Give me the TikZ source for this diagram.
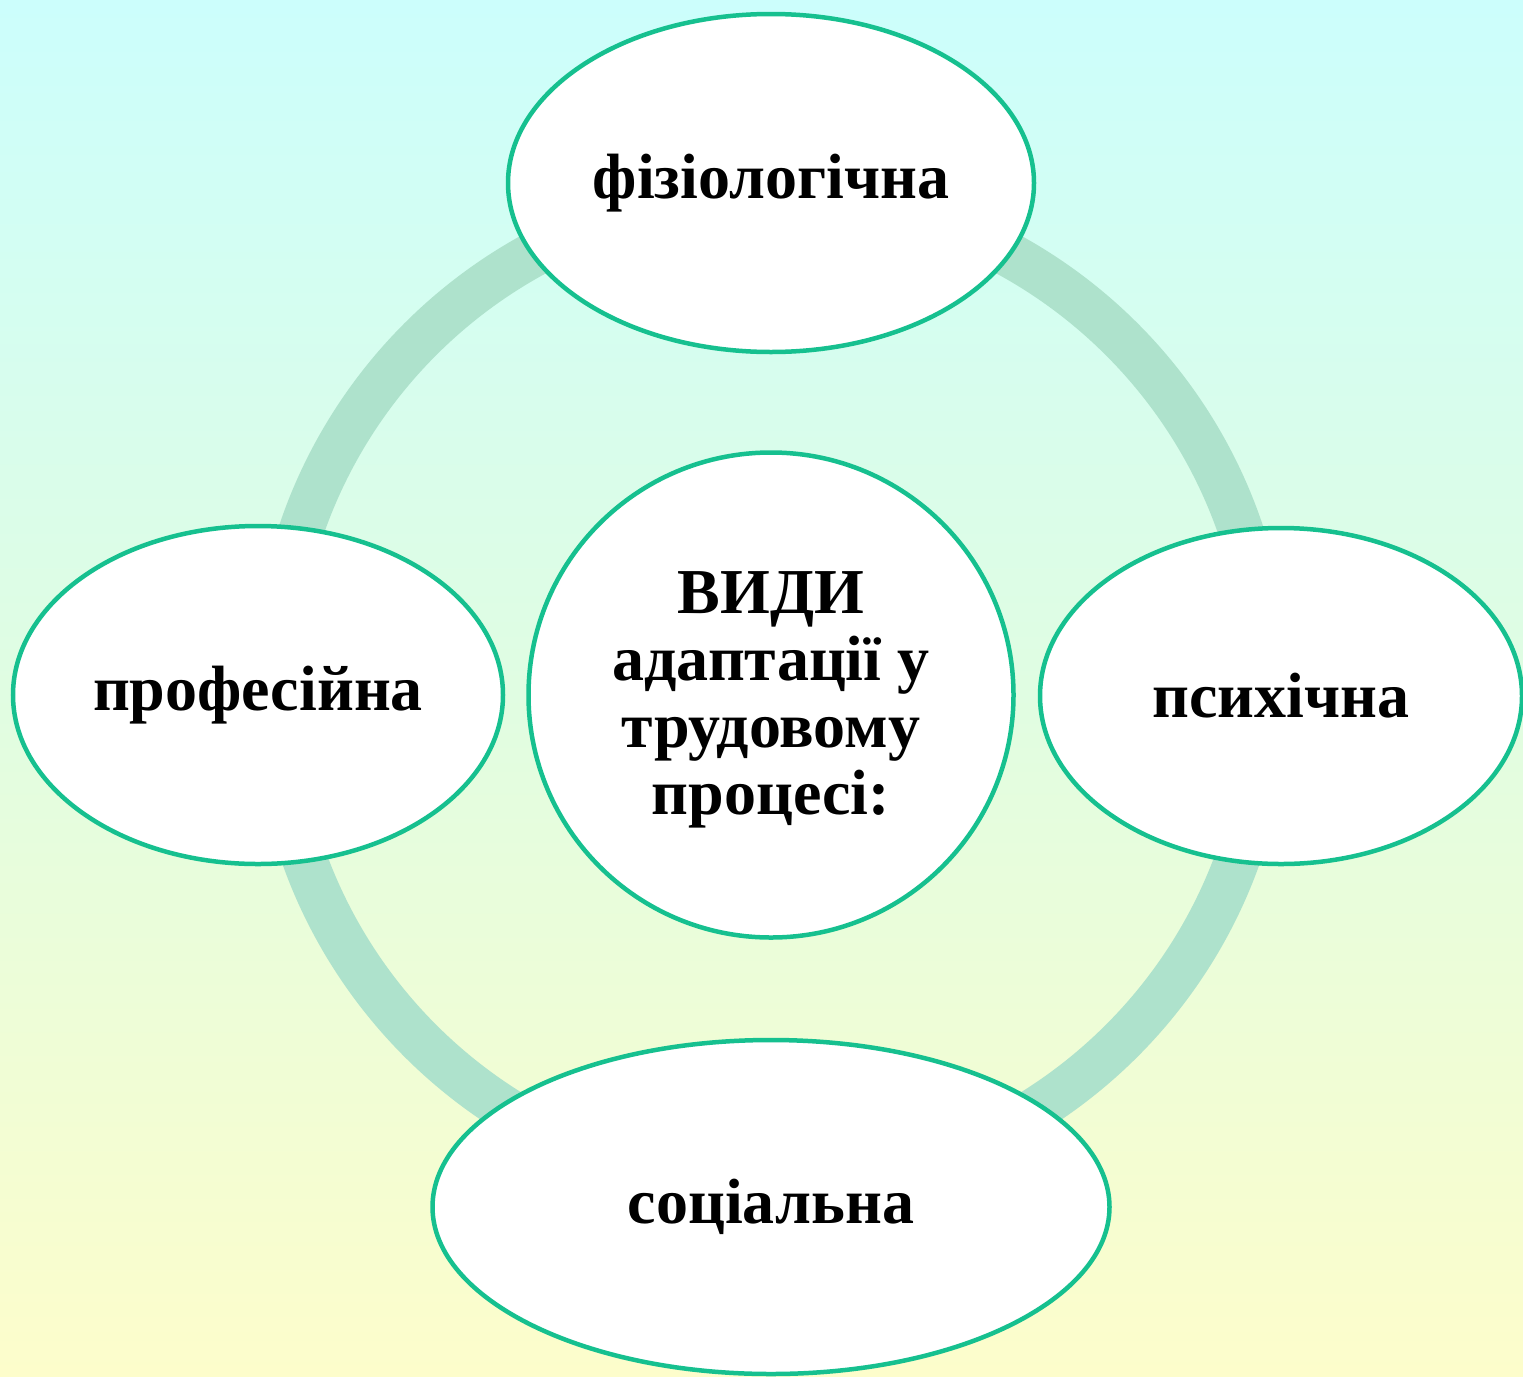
\documentclass[tikz,border=0pt]{standalone}
\usepackage{fontspec}
\setmainfont{Liberation Serif}
\usetikzlibrary{shapes.geometric}
\definecolor{bgtop}{HTML}{CCFEFC}
\definecolor{bgmid}{HTML}{E0FDE2}
\definecolor{bgbot}{HTML}{FDFDCB}
\definecolor{ringc}{HTML}{AEE2CC}
\definecolor{edgec}{HTML}{16C08F}
\tikzset{
  oval/.style={ellipse, draw=edgec, line width=4.5pt, fill=white, inner sep=0pt,
    font=\fontsize{64}{67}\selectfont\bfseries, align=center},
}
\begin{document}
\begin{tikzpicture}[x=1pt,y=-1pt]
\useasboundingbox (0,0) rectangle (1523,1376);
\shade[top color=bgtop, bottom color=bgbot, middle color=bgmid] (0,0) rectangle (1523,1376);
\coordinate (c) at (771,690);
\draw[ringc, line width=45pt] (c) circle[radius=496];
\node[oval, minimum width=526pt, minimum height=338pt] (top) at (771,183) {фізіологічна};
\node[oval, minimum width=490pt, minimum height=338pt] (left) at (258,695) {професійна};
\node[oval, minimum width=482pt, minimum height=336pt] (right) at (1281,696) {психічна};
\node[oval, minimum width=677pt, minimum height=334pt] (bottom) at (771,1207) {соціальна};
\node[oval, circle, minimum size=485pt] (center) at (771,695) {};
\node[font=\fontsize{64}{67}\selectfont\bfseries, align=center] (ctext) at (771,700) {ВИДИ\\адаптації у\\трудовому\\процесі:};
\end{tikzpicture}
\end{document}
